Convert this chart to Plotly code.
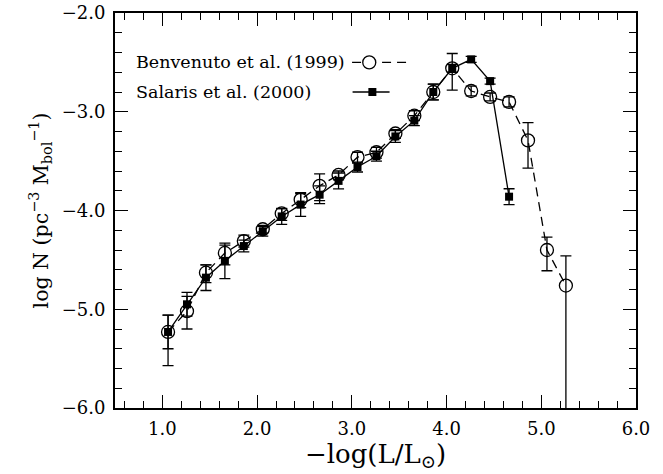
import plotly.graph_objects as go

# Luminosity function bins: -log(L/Lsun)
benv_x = [1.06, 1.26, 1.46, 1.66, 1.86, 2.06, 2.26, 2.46, 2.66, 2.86, 3.06,
          3.26, 3.46, 3.66, 3.86, 4.06, 4.26, 4.46, 4.66, 4.86, 5.06, 5.26]
benv_y = [-5.23, -5.02, -4.63, -4.43, -4.31, -4.19, -4.03, -3.89, -3.75, -3.64, -3.46,
          -3.41, -3.22, -3.04, -2.80, -2.56, -2.79, -2.85, -2.90, -3.29, -4.40, -4.76]
benv_err_up = [0.17, 0.15, 0.08, 0.08, 0.06, 0.04, 0.05, 0.06, 0.12, 0.04, 0.05,
               0.05, 0.04, 0.05, 0.08, 0.15, 0.05, 0.04, 0.05, 0.18, 0.13, 0.30]
benv_err_dn = [0.34, 0.18, 0.10, 0.12, 0.06, 0.04, 0.07, 0.08, 0.15, 0.05, 0.06,
               0.06, 0.05, 0.05, 0.08, 0.22, 0.05, 0.04, 0.05, 0.28, 0.21, 1.60]

sal_x = [1.06, 1.26, 1.46, 1.66, 1.86, 2.06, 2.26, 2.46, 2.66, 2.86,
         3.06, 3.26, 3.46, 3.66, 3.86, 4.06, 4.26, 4.46, 4.66]
sal_y = [-5.23, -4.95, -4.68, -4.51, -4.36, -4.21, -4.06, -3.94, -3.84, -3.70,
         -3.56, -3.45, -3.25, -3.09, -2.80, -2.56, -2.47, -2.69, -3.86]
sal_err = [0.17, 0.12, 0.13, 0.18, 0.06, 0.05, 0.08, 0.12, 0.09, 0.08,
           0.05, 0.05, 0.06, 0.05, 0.08, 0.04, 0.03, 0.03, 0.08]

legend_labels = ["Benvenuto et al. (1999)", "Salaris et al. (2000)"]

FONT = "DejaVu Serif"
LW = 1.3
DASH = "9px,6px"

fig = go.Figure()

fig.add_trace(go.Scatter(
    x=benv_x, y=benv_y, mode="lines+markers",
    line=dict(color="black", width=LW, dash=DASH),
    marker=dict(symbol="circle-open", size=13, color="black", line=dict(width=LW)),
    error_y=dict(type="data", symmetric=False, array=benv_err_up, arrayminus=benv_err_dn,
                 color="black", thickness=LW, width=5.5),
    showlegend=False,
))

fig.add_trace(go.Scatter(
    x=sal_x, y=sal_y, mode="lines+markers",
    line=dict(color="black", width=LW),
    marker=dict(symbol="square", size=8, color="black"),
    error_y=dict(type="data", array=sal_err, color="black", thickness=LW, width=5.5),
    showlegend=False,
))

# Key samples drawn on an auxiliary unit axis pair
KEY_Y = [0.875, 0.80]
fig.add_trace(go.Scatter(
    x=[0.455, 0.56], y=[KEY_Y[0], KEY_Y[0]],
    mode="lines", line=dict(color="black", width=LW, dash=DASH),
    xaxis="x2", yaxis="y2", showlegend=False, hoverinfo="skip",
))
fig.add_trace(go.Scatter(
    x=[0.488], y=[KEY_Y[0]], mode="markers",
    marker=dict(symbol="circle", size=13, color="white", line=dict(width=LW, color="black")),
    xaxis="x2", yaxis="y2", showlegend=False, hoverinfo="skip",
))
fig.add_trace(go.Scatter(
    x=[0.456, 0.527], y=[KEY_Y[1], KEY_Y[1]], mode="lines",
    line=dict(color="black", width=LW),
    xaxis="x2", yaxis="y2", showlegend=False, hoverinfo="skip",
))
fig.add_trace(go.Scatter(
    x=[0.494], y=[KEY_Y[1]], mode="markers",
    marker=dict(symbol="square", size=8, color="black"),
    xaxis="x2", yaxis="y2", showlegend=False, hoverinfo="skip",
))

for lab, yy in zip(legend_labels, KEY_Y):
    fig.add_annotation(x=0.036, y=yy, xref="x2", yref="y2", text=lab, showarrow=False,
                       xanchor="left", yanchor="middle",
                       font=dict(family=FONT, size=17.5, color="black"))

axis_common = dict(
    showgrid=False, zeroline=False, showline=True, linecolor="black", linewidth=2,
    mirror="allticks", ticks="inside", ticklen=13, tickwidth=1.3, tickcolor="black",
    tickfont=dict(family=FONT, size=18, color="black"),
    minor=dict(ticks="inside", ticklen=7, tickwidth=1.3, tickcolor="black", dtick=0.2),
    tickformat=".1f", automargin=False,
)

fig.update_layout(
    width=663, height=474,
    margin=dict(l=115, r=27, t=13, b=66),
    paper_bgcolor="white", plot_bgcolor="white",
    xaxis=dict(range=[0.5, 6.0], dtick=1.0, tick0=0, ticklabelstandoff=3,
               title=dict(text="−log(L/L<sub>⊙</sub>)", standoff=4,
                          font=dict(family=FONT, size=26, color="black")),
               **axis_common),
    yaxis=dict(range=[-6.0, -2.0], dtick=1.0, tick0=0, ticklabelstandoff=4,
               title=dict(text="log N (pc<sup>−3</sup> M<sub>bol</sub><sup>−1</sup>)", standoff=8,
                          font=dict(family=FONT, size=20.5, color="black")),
               **axis_common),
    xaxis2=dict(range=[0, 1], overlaying="x", visible=False, fixedrange=True),
    yaxis2=dict(range=[0, 1], overlaying="y", visible=False, fixedrange=True),
)

fig.write_html("out.html")
